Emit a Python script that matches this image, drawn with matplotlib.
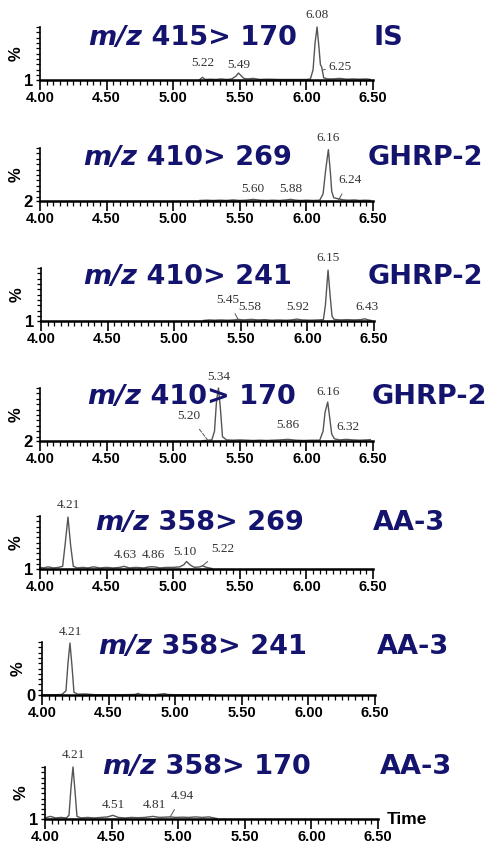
import matplotlib
matplotlib.use('Agg')
import matplotlib.pyplot as plt
from matplotlib import font_manager
from matplotlib.text import Annotation
from matplotlib.ticker import MultipleLocator, FixedLocator

# retention time (min) / relative intensity (%)
t1 = [5.20, 5.22, 5.24, 5.28, 5.32, 5.36, 5.40, 5.44, 5.47, 5.49, 5.51, 5.53, 5.56, 5.60, 5.65, 5.70,
      5.80, 5.90, 6.00, 6.03, 6.05, 6.065, 6.08, 6.095, 6.105, 6.115, 6.13, 6.16, 6.20, 6.25, 6.30,
      6.35, 6.40, 6.45, 6.48]
y1 = [2, 6, 2, 2.5, 2, 3, 2, 3, 8, 14, 9, 4, 3, 4, 2, 2.5,
      2, 2, 2, 3, 20, 70, 100, 60, 30, 25, 5, 3, 3, 4, 2.5,
      3, 2.5, 3, 2]

t2 = [5.20, 5.25, 5.30, 5.35, 5.40, 5.45, 5.50, 5.55, 5.60, 5.65, 5.70, 5.75, 5.80, 5.85, 5.88, 5.92,
      5.96, 6.00, 6.05, 6.10, 6.125, 6.145, 6.165, 6.18, 6.19, 6.205, 6.24, 6.28, 6.32, 6.36, 6.40,
      6.44, 6.48]
y2 = [3, 3.5, 3, 3.5, 3, 4, 3, 3.5, 5, 3.5, 3, 3.5, 3, 4, 5, 3.5,
      3, 3.5, 3, 3.5, 15, 60, 97, 55, 20, 8, 6, 4, 3.5, 4, 3,
      3.5, 3]

t3 = [5.22, 5.26, 5.30, 5.35, 5.40, 5.45, 5.48, 5.52, 5.58, 5.63, 5.68, 5.73, 5.78, 5.84, 5.88, 5.92,
      5.96, 6.02, 6.08, 6.12, 6.135, 6.155, 6.17, 6.185, 6.20, 6.25, 6.30, 6.35, 6.40, 6.43, 6.46, 6.48]
y3 = [2, 3, 2.5, 3, 2.5, 3, 4, 3, 4, 3, 3.5, 2.5, 3, 2.5, 3, 4.5,
      3, 2.5, 3, 3.5, 30, 96, 50, 10, 4, 3, 3.5, 3, 3.5, 5, 3, 2]

t4 = [5.22, 5.26, 5.29, 5.31, 5.325, 5.34, 5.355, 5.37, 5.40, 5.45, 5.50, 5.55, 5.60, 5.65, 5.70, 5.75,
      5.80, 5.86, 5.92, 5.98, 6.04, 6.10, 6.125, 6.14, 6.16, 6.175, 6.19, 6.21, 6.25, 6.30, 6.35,
      6.40, 6.45, 6.48]
y4 = [2.5, 3.5, 4, 20, 75, 100, 60, 10, 4, 3.5, 4, 3.5, 3, 3.5, 3, 3.5,
      4, 5, 3.5, 3, 3.5, 3.5, 20, 55, 74, 45, 15, 6, 4, 5, 4,
      3.5, 4, 4.5]

t5 = [4.00, 4.03, 4.06, 4.10, 4.14, 4.17, 4.19, 4.21, 4.23, 4.25, 4.28, 4.32, 4.36, 4.40, 4.45, 4.50,
      4.55, 4.60, 4.63, 4.67, 4.72, 4.78, 4.82, 4.86, 4.90, 4.95, 5.00, 5.05, 5.08, 5.10, 5.13,
      5.16, 5.20, 5.22, 5.25, 5.29]
y5 = [4, 3, 5, 3, 4, 6, 50, 98, 45, 6, 3, 4, 3, 5, 3, 4,
      3, 4, 6, 3, 4, 3, 5, 5, 3, 4, 4, 5, 9, 15, 8,
      4, 5, 7, 4, 2]

t6 = [4.00, 4.10, 4.15, 4.18, 4.195, 4.21, 4.225, 4.24, 4.27, 4.32, 4.40, 4.50, 4.60, 4.70, 4.72,
      4.74, 4.85, 4.92, 4.94, 5.00, 5.10, 5.20, 5.28]
y6 = [0.5, 0.5, 1, 8, 60, 98, 55, 5, 1.5, 2, 0.5, 0.5, 0.5, 1, 3,
      1, 0.5, 2.5, 1, 0.5, 0.5, 0.5, 0.5]

t7 = [4.00, 4.04, 4.08, 4.12, 4.16, 4.18, 4.195, 4.21, 4.225, 4.24, 4.27, 4.32, 4.37, 4.42, 4.47, 4.51,
      4.55, 4.60, 4.65, 4.70, 4.75, 4.81, 4.86, 4.90, 4.94, 4.98, 5.03, 5.08, 5.13, 5.18, 5.23, 5.29]
y7 = [3, 6, 3, 4, 3, 8, 60, 100, 55, 6, 3, 4, 3, 4, 5, 8,
      4, 3, 4, 3.5, 4, 6, 4, 4.5, 5, 4, 4.5, 4, 5, 4, 5, 2]

traces = [(t1, y1), (t2, y2), (t3, y3), (t4, y4), (t5, y5), (t6, y6), (t7, y7)]
transitions = ['415> 170', '410> 269', '410> 241', '410> 170', '358> 269', '358> 241', '358> 170']
compounds = ['IS', 'GHRP-2', 'GHRP-2', 'GHRP-2', 'AA-3', 'AA-3', 'AA-3']
offsets = [1, 2, 1, 2, 1, 0, 1]   # y value at the baseline of each trace
xticks = [4.00, 4.50, 5.00, 5.50, 6.00, 6.50]

# peak labels: (text, x of text, y of text, leader target or None)
labels = [
    [('6.08', 6.08, 122, None), ('5.22', 5.22, 33, None), ('5.49', 5.49, 29, None),
     ('6.25', 6.25, 25, (6.125, 20))],
    [('6.16', 6.16, 119, None), ('5.60', 5.60, 25, None), ('5.88', 5.88, 25, None),
     ('6.24', 6.33, 40, (6.24, 4))],
    [('6.15', 6.155, 119, None), ('5.45', 5.40, 40, (5.48, 4)), ('5.58', 5.57, 28, None),
     ('5.92', 5.93, 28, None), ('6.43', 6.45, 28, None)],
    [('5.34', 5.345, 121, None), ('5.20', 5.12, 48, (5.26, 3.5)), ('6.16', 6.16, 93, None),
     ('5.86', 5.86, 32, None), ('6.32', 6.31, 27, None)],
    [('4.21', 4.21, 121, None), ('4.63', 4.64, 28, None), ('4.86', 4.85, 28, None),
     ('5.10', 5.09, 33, None), ('5.22', 5.37, 38, (5.22, 7))],
    [('4.21', 4.21, 118, None)],
    [('4.21', 4.21, 123, None), ('4.51', 4.51, 27, None), ('4.81', 4.82, 27, None),
     ('4.94', 5.03, 45, (4.94, 5))],
]

# axes frames in pixels: left, right, baseline, top
frames = [(40, 373, 80, 27), (40, 373, 201, 148), (41, 374, 321, 268), (40, 373, 441, 388),
          (40, 373, 569, 516), (42, 375, 695, 642), (45, 378, 819, 767)]
# title anchors in pixels: x of "m/z", y centre, x of compound name
title_pos = [(88, 38, 373), (83, 158, 368), (83, 277, 368), (87, 397, 372),
             (95, 523, 373), (98, 647, 377), (102, 767, 380)]


def narrow_font():
    for name in ['Liberation Sans Narrow', 'DejaVu Sans Condensed', 'Arial Narrow']:
        try:
            font_manager.findfont(name, fallback_to_default=False)
            return name, 11
        except Exception:
            pass
    return 'Liberation Sans', 10.5


narrow, tick_size = narrow_font()
W, H = 500, 849
navy = '#14146e'
title_size = 19.5
fig = plt.figure(figsize=(W / 100, H / 100), dpi=100)

for i in range(7):
    x0, x1, yb, yt = frames[i]
    ax = fig.add_axes([x0 / W, 1 - yb / H, (x1 - x0) / W, (yb - yt) / H])
    t, y = traces[i]
    ax.plot(t, y, color='#555555', lw=1.0, clip_on=False)
    ax.set_xlim(4.0, 6.5)
    ax.set_ylim(offsets[i], 100)
    for s in ['top', 'right']:
        ax.spines[s].set_visible(False)
    ax.spines['bottom'].set_linewidth(1.8)
    ax.spines['left'].set_linewidth(1.2)
    ax.set_facecolor('none')

    ax.set_xticks(xticks)
    ax.set_xticklabels(['%.2f' % v for v in xticks], fontfamily=narrow, fontweight='bold',
                       fontsize=tick_size)
    ax.xaxis.set_minor_locator(MultipleLocator(0.05))
    ax.tick_params(axis='x', which='major', length=7, width=1.2, pad=1, direction='out')
    ax.tick_params(axis='x', which='minor', length=3.5, width=0.9, direction='out')

    ax.yaxis.set_major_locator(FixedLocator([offsets[i]]))
    ax.set_yticklabels([str(offsets[i])], fontfamily=narrow, fontweight='bold', fontsize=tick_size + 1.5)
    ax.yaxis.set_minor_locator(MultipleLocator(10))
    ax.tick_params(axis='y', which='major', length=3, width=1, pad=2)
    ax.tick_params(axis='y', which='minor', length=3, width=0.9)
    ax.set_ylabel('%', fontsize=12, fontfamily=narrow, fontweight='bold')
    ax.yaxis.set_label_coords(-0.05, 0.5)

    for txt, lx, ly, target in labels[i]:
        if target is None:
            ax.text(lx, ly, txt, ha='center', va='center', fontsize=9.5,
                    fontfamily='Liberation Serif', color='#333333', clip_on=False)
        else:
            ax.annotate(txt, xy=target, xytext=(lx, ly), ha='center', va='center', fontsize=9.5,
                        fontfamily='Liberation Serif', color='#333333', annotation_clip=False,
                        arrowprops=dict(arrowstyle='-', color='#555555', lw=0.7,
                                        shrinkA=4, shrinkB=0,
                                        linestyle='--' if txt == '5.20' else '-'))

    tx, ty, cx = title_pos[i]
    mz = fig.text(tx / W, 1 - ty / H, 'm/z', fontsize=title_size, fontweight='bold',
                  fontstyle='italic', color=navy, va='center', ha='left')
    fig.add_artist(Annotation(' ' + transitions[i], xy=(1, 0), xycoords=mz,
                              fontsize=title_size, fontweight='bold', color=navy,
                              va='bottom', ha='left'))
    fig.text(cx / W, 1 - ty / H, compounds[i], fontsize=title_size, fontweight='bold', color=navy,
             va='center', ha='left')

    if i == 6:
        ax.text(1.025, 0, 'Time', transform=ax.transAxes, fontfamily=narrow, fontweight='bold',
                fontsize=tick_size + 2, va='center', ha='left')

fig.savefig('out.png', dpi=100)
